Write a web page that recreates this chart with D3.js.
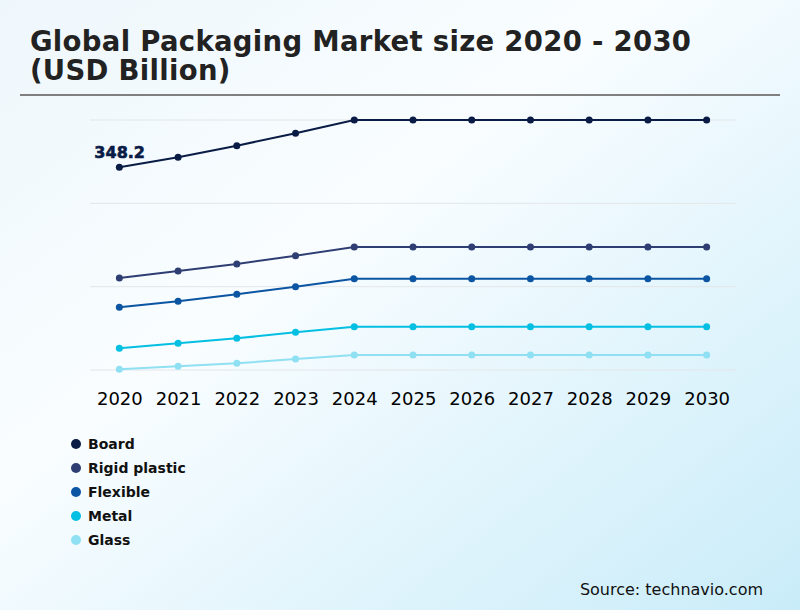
<!DOCTYPE html>
<html>
<head>
<meta charset="utf-8">
<script src="https://cdn.jsdelivr.net/npm/d3@7"></script>
<style>
  body { margin: 0; }
  svg { display: block; }
</style>
</head>
<body>
<div id="chart"></div>
<script>
const years = ["2020", "2021", "2022", "2023", "2024", "2025", "2026", "2027", "2028", "2029", "2030"];

const board = [348.2, 360.2, 374.2, 389.0, 405.0, 405.0, 405.0, 405.0, 405.0, 405.0, 405.0];
const rigidPlastic = [215.4, 223.8, 232.2, 242.2, 252.6, 252.6, 252.6, 252.6, 252.6, 252.6, 252.6];
const flexible = [180.2, 187.4, 195.8, 205.0, 214.6, 214.6, 214.6, 214.6, 214.6, 214.6, 214.6];
const metal = [131.0, 137.0, 143.0, 150.2, 157.0, 157.0, 157.0, 157.0, 157.0, 157.0, 157.0];
const glass = [105.8, 109.4, 113.0, 118.2, 123.0, 123.0, 123.0, 123.0, 123.0, 123.0, 123.0];

const seriesNames = ["Board", "Rigid plastic", "Flexible", "Metal", "Glass"];
const seriesValues = [board, rigidPlastic, flexible, metal, glass];
const colors = ["#0a1c45", "#2e3e72", "#0b55a3", "#03bfe2", "#8fe0f2"];

const width = 800, height = 610;

const svg = d3.select("#chart").append("svg")
    .attr("width", width)
    .attr("height", height);

// background gradient
const grad = svg.append("defs").append("linearGradient")
    .attr("id", "bg")
    .attr("x1", "0%").attr("y1", "0%")
    .attr("x2", "100%").attr("y2", "100%");
grad.append("stop").attr("offset", "0%").attr("stop-color", "#eef7fc");
grad.append("stop").attr("offset", "40%").attr("stop-color", "#f9fdff");
grad.append("stop").attr("offset", "100%").attr("stop-color", "#c9ecf9");

svg.append("rect")
    .attr("width", width)
    .attr("height", height)
    .attr("fill", "url(#bg)");

// title
const title = svg.append("text")
    .attr("fill", "#222")
    .attr("font-family", "'DejaVu Sans'")
    .attr("font-weight", "bold")
    .attr("font-size", "27.5px")
    .attr("letter-spacing", "0.3px");
title.append("tspan").attr("x", 30).attr("y", 51).text("Global Packaging Market size 2020 - 2030");
title.append("tspan").attr("x", 30).attr("y", 80).text("(USD Billion)");

svg.append("line")
    .attr("x1", 20).attr("x2", 780)
    .attr("y1", 95).attr("y2", 95)
    .attr("stroke", "#808080")
    .attr("stroke-width", 2);

// scales
const x = d3.scalePoint()
    .domain(years)
    .range([90, 736])
    .padding(0.5);

const yMin = 105, yMax = 405;
const y = d3.scaleLinear()
    .domain([yMin, yMax])
    .range([370, 120]);

// gridlines
svg.append("g")
    .selectAll("line")
    .data(d3.range(yMin, yMax + 1, 100))
    .enter()
    .append("line")
    .attr("x1", 90).attr("x2", 736)
    .attr("y1", d => y(d)).attr("y2", d => y(d))
    .attr("stroke", "#e3e6e8")
    .attr("stroke-width", 1);

// x axis labels
const xAxis = svg.append("g")
    .attr("transform", "translate(0,370)")
    .call(d3.axisBottom(x).tickSize(0).tickPadding(22));
xAxis.select(".domain").remove();
xAxis.selectAll("text")
    .attr("fill", "#000")
    .attr("font-family", "'DejaVu Sans'")
    .attr("font-size", "18px");

// lines and dots
const line = d3.line()
    .x((d, i) => x(years[i]))
    .y(d => y(d));

seriesValues.forEach((vals, k) => {
    const g = svg.append("g");
    g.append("path")
        .datum(vals)
        .attr("fill", "none")
        .attr("stroke", colors[k])
        .attr("stroke-width", 2)
        .attr("d", line);
    g.selectAll("circle")
        .data(vals)
        .enter()
        .append("circle")
        .attr("cx", (d, i) => x(years[i]))
        .attr("cy", d => y(d))
        .attr("r", 3.5)
        .attr("fill", colors[k]);
});

// value label on first point
svg.append("text")
    .attr("x", x(years[0]) - 25)
    .attr("y", y(board[0]) - 9)
    .attr("fill", colors[0])
    .attr("stroke", colors[0])
    .attr("stroke-width", 0.6)
    .attr("font-family", "'DejaVu Sans'")
    .attr("font-weight", "bold")
    .attr("font-size", "16px")
    .text(board[0].toFixed(1));

// legend
const legend = svg.append("g");
const legendItems = legend.selectAll("g")
    .data(seriesNames)
    .enter()
    .append("g")
    .attr("transform", (d, i) => `translate(76,${444 + i * 24})`);
legendItems.append("circle")
    .attr("r", 5)
    .attr("fill", (d, i) => colors[i]);
legendItems.append("text")
    .attr("x", 12)
    .attr("y", 5)
    .attr("fill", "#111")
    .attr("font-family", "'DejaVu Sans'")
    .attr("font-weight", "bold")
    .attr("font-size", "14px")
    .text(d => d);

// source
svg.append("text")
    .attr("x", 763)
    .attr("y", 595)
    .attr("text-anchor", "end")
    .attr("fill", "#111")
    .attr("font-family", "'DejaVu Sans'")
    .attr("font-size", "16px")
    .text("Source: technavio.com");
</script>
</body>
</html>
